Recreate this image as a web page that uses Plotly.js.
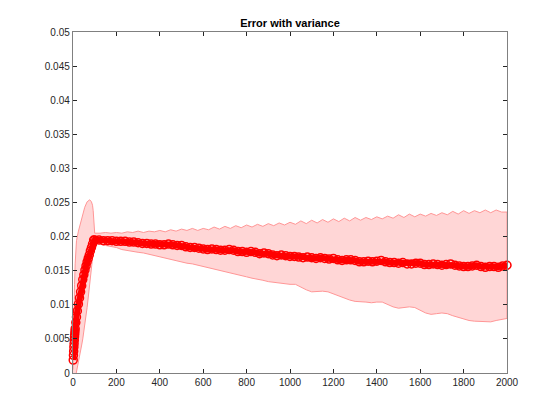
<!DOCTYPE html>
<html>
<head>
<meta charset="utf-8">
<script src="https://cdn.plot.ly/plotly-3.0.1.min.js"></script>
<style>
  body { margin: 0; background: #fff; }
  #err_plot { width: 560px; height: 420px; }
</style>
</head>
<body>
<div id="err_plot"></div>
<script>
// mean error curve
var meanX = [1, 2, 3, 4, 5, 6, 7, 8, 9, 10, 13, 16, 20, 25, 30, 35, 40, 45, 50, 55, 60, 65, 70, 75, 80, 85, 90, 95,
    100, 120, 140, 160, 180, 200, 220, 240, 260, 280, 300, 320, 340, 360, 380, 400, 420, 440, 460, 480,
    500, 520, 540, 560, 580, 600, 620, 640, 660, 680, 700, 720, 740, 760, 780, 800, 820, 840, 860, 880,
    900, 920, 940, 960, 980, 1000, 1020, 1040, 1060, 1080, 1100, 1120, 1140, 1160, 1180, 1200, 1220, 1240,
    1260, 1280, 1300, 1320, 1340, 1360, 1380, 1400, 1420, 1440, 1460, 1480, 1500, 1520, 1540, 1560, 1580,
    1600, 1620, 1640, 1660, 1680, 1700, 1720, 1740, 1760, 1780, 1800, 1820, 1840, 1860, 1880, 1900, 1920,
    1940, 1960, 1980, 2000];
var meanErr = [0.0019, 0.0026, 0.0032, 0.0038, 0.0043, 0.0048, 0.0053, 0.0057, 0.0061, 0.0065, 0.0074, 0.0082,
    0.0091, 0.0101, 0.0110, 0.0119, 0.0128, 0.0137, 0.0144, 0.0151, 0.0157, 0.0163, 0.0168, 0.0173, 0.0179,
    0.0184, 0.0189, 0.0195,
    0.0195, 0.0195, 0.0194, 0.0194, 0.0194, 0.0193, 0.0193, 0.0193, 0.0192, 0.0192, 0.0191, 0.0190, 0.0190,
    0.0189, 0.0189, 0.0188, 0.0188, 0.0189, 0.0188, 0.0187, 0.0187, 0.0185, 0.0184, 0.0184, 0.0183, 0.0182,
    0.0181, 0.0182, 0.0181, 0.0180, 0.0180, 0.0181, 0.0180, 0.0178, 0.0178, 0.0177, 0.0178, 0.0177, 0.0175,
    0.0176, 0.0175, 0.0173, 0.0172, 0.0173, 0.0172, 0.0171, 0.0171, 0.0170, 0.0169, 0.0170, 0.0169, 0.0168,
    0.0169, 0.0168, 0.0167, 0.0168, 0.0166, 0.0165, 0.0166, 0.0166, 0.0165, 0.0163, 0.0163, 0.0164, 0.0163,
    0.0164, 0.0165, 0.0163, 0.0162, 0.0162, 0.0161, 0.0162, 0.0160, 0.0160, 0.0161, 0.0161, 0.0159, 0.0159,
    0.0160, 0.0159, 0.0158, 0.0159, 0.0160, 0.0158, 0.0157, 0.0156, 0.0156, 0.0157, 0.0158, 0.0156, 0.0155,
    0.0156, 0.0156, 0.0155, 0.0157, 0.0158];

// upper edge of the variance band
var upperX = [0, 1, 2, 4, 7, 10, 16, 25, 35, 45, 54, 65, 77, 85, 90, 93, 96, 99, 100,
    125, 150, 175, 200, 225, 250, 275, 300, 325, 350, 375, 400, 425, 450, 475, 500, 525, 550, 575, 600,
    625, 650, 675, 700, 725, 750, 775, 800, 825, 850, 875, 900, 925, 950, 975, 1000, 1025, 1050, 1075, 1100,
    1125, 1150, 1175, 1200, 1225, 1250, 1275, 1300, 1325, 1350, 1375, 1400, 1425, 1450, 1475, 1500, 1525, 1550,
    1575, 1600, 1625, 1650, 1675, 1700, 1725, 1750, 1775, 1800, 1825, 1850, 1875, 1900, 1925, 1950, 1975, 2000];
var upperErr = [0.0005, 0.0040, 0.0070, 0.0100, 0.0130, 0.0160, 0.0194, 0.0208, 0.0219, 0.0233, 0.0243, 0.0251,
    0.0254, 0.0251, 0.0246, 0.0238, 0.0222, 0.0208, 0.0205,
    0.0205, 0.0206, 0.0205, 0.0206, 0.0205, 0.0207, 0.0206, 0.0208, 0.0206, 0.0208, 0.0207, 0.0209, 0.0207,
    0.0210, 0.0208, 0.0211, 0.0209, 0.0212, 0.0209, 0.0212, 0.0210, 0.0214, 0.0211, 0.0215, 0.0212, 0.0216,
    0.0213, 0.0217, 0.0214, 0.0218, 0.0215, 0.0219, 0.0216, 0.0220, 0.0217, 0.0221, 0.0218, 0.0223, 0.0219,
    0.0224, 0.0220, 0.0225, 0.0221, 0.0226, 0.0222, 0.0227, 0.0223, 0.0228, 0.0224, 0.0228, 0.0225, 0.0229,
    0.0226, 0.0230, 0.0227, 0.0232, 0.0228, 0.0233, 0.0229, 0.0233, 0.0230, 0.0234, 0.0231, 0.0235, 0.0232,
    0.0237, 0.0233, 0.0238, 0.0234, 0.0238, 0.0235, 0.0239, 0.0235, 0.0239, 0.0236, 0.0236];

// lower edge of the variance band (goes below zero at the start, clipped by the axis)
var lowerX = [0, 5, 10, 15, 20, 25, 30, 35, 40, 45, 50, 55, 60, 65, 70, 75, 80, 85, 90, 95, 100,
    125, 150, 175, 200, 225, 250, 275, 300, 325, 350, 375, 400, 425, 450, 475, 500, 525, 550, 575, 600,
    625, 650, 675, 700, 725, 750, 775, 800, 825, 850, 875, 900, 925, 950, 975, 1000, 1025, 1050, 1075, 1100,
    1125, 1150, 1175, 1200, 1225, 1250, 1275, 1300, 1325, 1350, 1375, 1400, 1425, 1450, 1475, 1500, 1525, 1550,
    1575, 1600, 1625, 1650, 1675, 1700, 1725, 1750, 1775, 1800, 1825, 1850, 1875, 1900, 1925, 1950, 1975, 2000];
var lowerErr = [-0.0010, -0.0030, -0.0020, 0.0000, 0.0008, 0.0016, 0.0024, 0.0032, 0.0041, 0.0050, 0.0060,
    0.0071, 0.0083, 0.0096, 0.0110, 0.0124, 0.0139, 0.0155, 0.0170, 0.0183, 0.0190,
    0.0189, 0.0187, 0.0185, 0.0184, 0.0181, 0.0179, 0.0178, 0.0177, 0.0176, 0.0174, 0.0172, 0.0171, 0.0169,
    0.0167, 0.0165, 0.0163, 0.0161, 0.0160, 0.0158, 0.0156, 0.0154, 0.0152, 0.0150, 0.0149, 0.0147, 0.0145,
    0.0143, 0.0141, 0.0139, 0.0137, 0.0136, 0.0134, 0.0132, 0.0131, 0.0131, 0.0130, 0.0130, 0.0126, 0.0122,
    0.0119, 0.0119, 0.0120, 0.0119, 0.0116, 0.0113, 0.0110, 0.0107, 0.0105, 0.0104, 0.0104, 0.0103, 0.0104,
    0.0104, 0.0100, 0.0097, 0.0095, 0.0096, 0.0097, 0.0096, 0.0092, 0.0088, 0.0086, 0.0087, 0.0088, 0.0087,
    0.0084, 0.0081, 0.0079, 0.0077, 0.0076, 0.0075, 0.0075, 0.0075, 0.0077, 0.0079, 0.0080];

var xTicks = [0, 200, 400, 600, 800, 1000, 1200, 1400, 1600, 1800, 2000];
var yTicks = [0, 0.005, 0.01, 0.015, 0.02, 0.025, 0.03, 0.035, 0.04, 0.045, 0.05];
var yTickText = ['0', '0.005', '0.01', '0.015', '0.02', '0.025', '0.03', '0.035', '0.04', '0.045', '0.05'];

function plotErr() {
    // band polygon: along the upper edge, back along the lower edge
    var bandX = upperX.concat(lowerX.slice().reverse());
    var bandY = upperErr.concat(lowerErr.slice().reverse());

    var band = {
        x: bandX, y: bandY,
        mode: 'lines',
        fill: 'toself',
        fillcolor: 'rgb(255,214,214)',
        line: {color: 'rgb(255,150,150)', width: 1},
        hoverinfo: 'skip',
        type: 'scatter'
    };

    var mean = {
        x: meanX, y: meanErr,
        mode: 'lines+markers',
        line: {color: 'rgb(255,0,0)', width: 6},
        marker: {
            symbol: 'circle-open',
            size: 8,
            color: 'rgb(255,0,0)',
            line: {width: 1.5}},
        cliponaxis: false,
        type: 'scatter'
    };

    var axisStyle = {
        showgrid: false,
        zeroline: false,
        showline: true,
        mirror: 'ticks',
        linecolor: 'rgb(128,128,128)',
        linewidth: 1.2,
        ticks: 'inside',
        ticklen: 4,
        tickcolor: 'rgb(38,38,38)',
        tickfont: {family: 'Liberation Sans, Arial, sans-serif', size: 10, color: 'rgb(38,38,38)'}
    };

    var layout = {
        width: 560, height: 420,
        showlegend: false,
        paper_bgcolor: '#fff',
        plot_bgcolor: '#fff',
        title: {
            text: '<b>Error with variance</b>',
            font: {family: 'Liberation Sans, Arial, sans-serif', size: 11, color: '#000'},
            xref: 'paper', x: 0.5, xanchor: 'center',
            yref: 'container', y: 0.944, yanchor: 'middle'
        },
        xaxis: Object.assign({}, axisStyle, {
            range: [0, 2000],
            tickvals: xTicks,
            ticktext: xTicks.map(String)
        }),
        yaxis: Object.assign({}, axisStyle, {
            range: [0, 0.05],
            tickvals: yTicks,
            ticktext: yTickText
        }),
        margin: {l: 73, r: 53, t: 32, b: 47}
    };

    Plotly.newPlot('err_plot', [band, mean], layout, {staticPlot: true, displayModeBar: false});
}
plotErr();
</script>
</body>
</html>
